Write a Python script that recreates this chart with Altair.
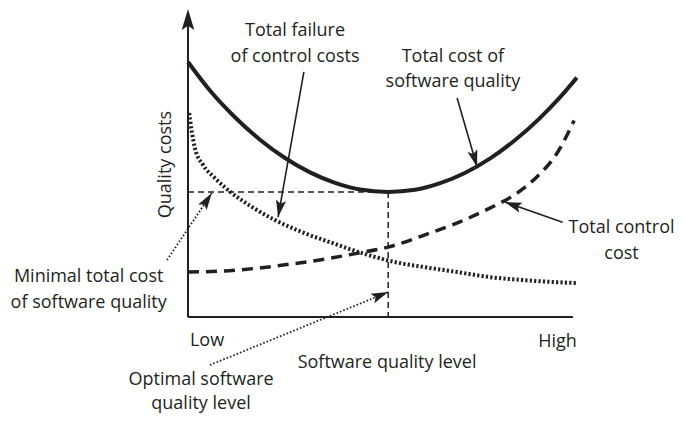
import math
import altair as alt
import pandas as pd

# ---------------- data (x: 0 = Low .. 100 = High, y: cost units) ----------------
total_x = [0, 5.7, 12.2, 18.7, 25.2, 31.7, 38.2, 44.7, 52, 59, 65.5, 71.9, 78.4, 84.9, 91.4, 96.6, 101]
total_y = [85, 75.5, 66.6, 59.1, 53.0, 48.2, 44.7, 42.5, 41.7, 42.4, 44.6, 48, 52.8, 58.9, 66.3, 73.2, 79.8]

failure_x = [0.3, 1.0, 1.8, 3.9, 7.0, 11.4, 16.6, 22.6, 29.6, 37.4, 45.2, 53.8, 61.0, 69.9, 78.4, 87.0, 101]
failure_y = [68, 61.7, 56.3, 50.7, 46.3, 41.3, 36.7, 32.3, 28.3, 24.7, 21.3, 18.3, 16.7, 15, 13.3, 12.3, 11.3]

control_x = [0, 8.8, 18.2, 27.0, 35.6, 44.2, 52, 62.9, 70.6, 78.4, 85.5, 90.6, 95.8, 100.3]
control_y = [15, 15.3, 16.3, 17.7, 19.3, 21.3, 23.3, 28, 31.7, 36.3, 41.3, 46.7, 54.5, 65.5]

opt_x = 52
opt_y = 41.7

# arrows: start -> tip
arrow_names = ["failure", "total", "control"]
arrow_x1 = [30.1, 69.9, 97.3]
arrow_y1 = [81.7, 73.0, 31.6]
arrow_x2 = [23.4, 75.1, 82.3]
arrow_y2 = [33.3, 50.0, 38.3]

dot_arrow_names = ["minimal", "optimal"]
dot_arrow_x1 = [-5.45, 5.7]
dot_arrow_y1 = [19.0, -16.0]
dot_arrow_x2 = [6.2, 52.0]
dot_arrow_y2 = [41.3, 8.3]

# text labels
center_texts = ["Total failure", "of control costs", "Total cost of", "software quality",
                "Total control", "cost", "Minimal total cost", "of software quality",
                "Software quality level", "Optimal software", "quality level"]
center_tx = [27.8, 27.8, 68.8, 68.8, 112.6, 112.6, -25.8, -25.8, 51.7, 3.4, 3.4]
center_ty = [93.7, 85.1, 85.1, 76.6, 27.9, 19.2, 11.6, 2.9, -17.1, -22.8, -30.5]

low_label, high_label = "Low", "High"
y_title = "Quality costs"

# ---------------- layout ----------------
SX = 3.85            # px per x unit
SY = 3.0             # px per y unit
W, H = 667, 405
XMIN = -46.75
XMAX = XMIN + W / SX
YMIN, YMAX = -32.0, 103.0
INK = "#231f20"
FONT = "Open Sans"
FS = 18

xs = alt.Scale(domain=[XMIN, XMAX], nice=False, zero=False)
ys = alt.Scale(domain=[YMIN, YMAX], nice=False, zero=False)
X = lambda f="x": alt.X(f"{f}:Q", scale=xs, axis=None)
Y = lambda f="y": alt.Y(f"{f}:Q", scale=ys, axis=None)


def angle(x1, y1, x2, y2):
    return math.degrees(math.atan2((x2 - x1) * SX, (y2 - y1) * SY)) % 360


def curve(xv, yv):
    return pd.DataFrame({"x": xv, "y": yv, "i": range(len(xv))})


total_df = curve(total_x, total_y)
failure_df = curve(failure_x, failure_y)
control_df = curve(control_x, control_y)

solid = alt.Chart(total_df).mark_line(color=INK, strokeWidth=4, interpolate="monotone").encode(
    x=X(), y=Y(), order="i:Q")
dashed = alt.Chart(control_df).mark_line(color=INK, strokeWidth=3.5, strokeDash=[11, 7],
                                         interpolate="monotone").encode(x=X(), y=Y(), order="i:Q")
dotted = alt.Chart(failure_df).mark_line(color=INK, strokeWidth=4, strokeDash=[2.2, 2.2],
                                         interpolate="monotone").encode(x=X(), y=Y(), order="i:Q")

# axes
axes_df = pd.DataFrame({"x": [0, 0], "y": [0, 0], "x2": [100, 0], "y2": [0, 100]})
axes = alt.Chart(axes_df).mark_rule(color=INK, strokeWidth=2).encode(
    x=X(), y=Y(), x2="x2:Q", y2="y2:Q")
yarrow_df = pd.DataFrame({"x": [0], "y": [102.7], "a": [0.0]})
HEAD = "M0,0L0.3,1L0,0.8L-0.3,1Z"
yarrow = alt.Chart(yarrow_df).mark_point(shape=HEAD, filled=True, color=INK, opacity=1,
                                         size=4 * 21 * 21, strokeWidth=0).encode(
    x=X(), y=Y(), angle=alt.Angle("a:Q", scale=None))

# guides to the optimum
guide_df = pd.DataFrame({"x": [0, opt_x], "y": [opt_y, opt_y], "x2": [opt_x, opt_x], "y2": [opt_y, 0]})
guides = alt.Chart(guide_df).mark_rule(color=INK, strokeWidth=1.5, strokeDash=[6, 4]).encode(
    x=X(), y=Y(), x2="x2:Q", y2="y2:Q")

# arrows
arr_df = pd.DataFrame({"n": arrow_names, "x": arrow_x1, "y": arrow_y1, "x2": arrow_x2, "y2": arrow_y2})
arr_df["a"] = [angle(a, b, c, d) for a, b, c, d in zip(arrow_x1, arrow_y1, arrow_x2, arrow_y2)]
arr_lines = alt.Chart(arr_df).mark_rule(color=INK, strokeWidth=1.6).encode(
    x=X(), y=Y(), x2="x2:Q", y2="y2:Q")
arr_heads = alt.Chart(arr_df).mark_point(shape=HEAD, filled=True, color=INK, opacity=1,
                                         size=4 * 17 * 17, strokeWidth=0).encode(
    x=X("x2"), y=Y("y2"), angle=alt.Angle("a:Q", scale=None))

darr_df = pd.DataFrame({"n": dot_arrow_names, "x": dot_arrow_x1, "y": dot_arrow_y1,
                        "x2": dot_arrow_x2, "y2": dot_arrow_y2})
darr_df["a"] = [angle(a, b, c, d) for a, b, c, d in
                zip(dot_arrow_x1, dot_arrow_y1, dot_arrow_x2, dot_arrow_y2)]
darr_lines = alt.Chart(darr_df).mark_rule(color=INK, strokeWidth=1.8, strokeDash=[1.6, 2]).encode(
    x=X(), y=Y(), x2="x2:Q", y2="y2:Q")
darr_heads = alt.Chart(darr_df).mark_point(shape=HEAD, filled=True, color=INK, opacity=1,
                                           size=4 * 17 * 17, strokeWidth=0).encode(
    x=X("x2"), y=Y("y2"), angle=alt.Angle("a:Q", scale=None))

# texts
ct_df = pd.DataFrame({"t": center_texts, "x": center_tx, "y": center_ty})
ctext = alt.Chart(ct_df).mark_text(font=FONT, fontSize=FS, color=INK, align="center",
                                   baseline="alphabetic").encode(x=X(), y=Y(), text="t:N")
low_df = pd.DataFrame({"t": [low_label], "x": [0.5], "y": [-9.6]})
ltext = alt.Chart(low_df).mark_text(font=FONT, fontSize=FS, color=INK, align="left",
                                    baseline="alphabetic").encode(x=X(), y=Y(), text="t:N")
high_df = pd.DataFrame({"t": [high_label], "x": [101], "y": [-9.9]})
htext = alt.Chart(high_df).mark_text(font=FONT, fontSize=FS, color=INK, align="right",
                                     baseline="alphabetic").encode(x=X(), y=Y(), text="t:N")
yt_df = pd.DataFrame({"t": [y_title], "x": [-4.4], "y": [50.8]})
ytext = alt.Chart(yt_df).mark_text(font=FONT, fontSize=FS, color=INK, align="center",
                                   baseline="alphabetic", angle=270).encode(x=X(), y=Y(), text="t:N")

chart = alt.layer(
    guides, dashed, dotted, solid, axes, yarrow,
    arr_lines, arr_heads, darr_lines, darr_heads,
    ctext, ltext, htext, ytext,
).properties(
    width=W, height=H, padding=0, autosize=alt.AutoSizeParams(type="none"),
    background="white",
).configure_view(stroke=None)

chart.save("out.html", embed_options={"renderer": "svg", "actions": False})
